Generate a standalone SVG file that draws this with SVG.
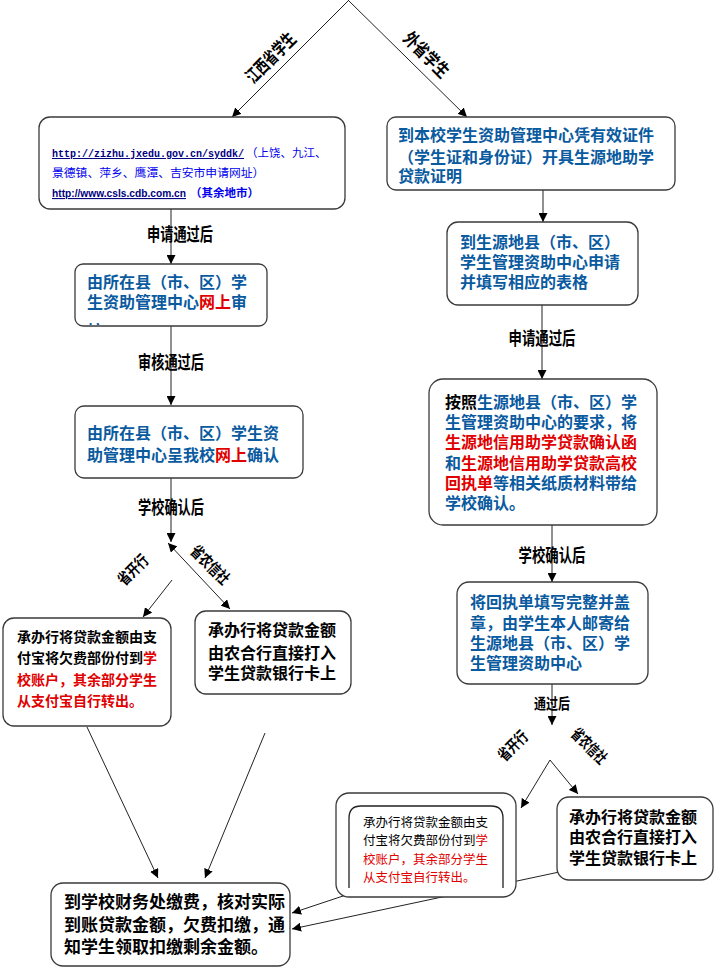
<svg xmlns="http://www.w3.org/2000/svg" width="716" height="969" viewBox="0 0 716 969">
<style>
text{font-family:"Liberation Sans","Noto Sans CJK SC",sans-serif;}
.box{fill:#fff;stroke:#3a3a3a;stroke-width:1.3;}
.ln{fill:none;stroke:#222;stroke-width:1;}
.lbl{font-size:18px;font-weight:bold;fill:#000;text-anchor:middle;}
.rl{font-size:18px;font-weight:bold;fill:#000;text-anchor:middle;dominant-baseline:central;}
.b16{font-size:16px;font-weight:bold;fill:#0a5aa0;}
.k16{font-size:16px;font-weight:bold;fill:#000;}
.k14{font-size:14px;font-weight:bold;fill:#000;}
.r{fill:#e00000;}
.bl{fill:#0a5aa0;}
.k{fill:#000;}
</style>
<defs>
<marker id="ah" viewBox="0 0 10 10" refX="10" refY="5" markerWidth="9" markerHeight="9" markerUnits="userSpaceOnUse" orient="auto-start-reverse">
<path d="M0,0 L10,5 L0,10 z" fill="#000"/>
</marker>
<clipPath id="c2"><rect x="75" y="264" width="192" height="61"/></clipPath>
</defs>
<rect width="716" height="969" fill="#fff"/>

<g id="connectors">
<line class="ln" x1="349" y1="0" x2="232" y2="117" marker-end="url(#ah)"/>
<line class="ln" x1="348" y1="0" x2="467" y2="117" marker-end="url(#ah)"/>
<line class="ln" x1="171" y1="209" x2="171" y2="264" marker-end="url(#ah)"/>
<line class="ln" x1="171" y1="326" x2="171" y2="405" marker-end="url(#ah)"/>
<line class="ln" x1="171" y1="478" x2="171" y2="542" marker-end="url(#ah)"/>
<line class="ln" x1="168" y1="543" x2="230" y2="609" marker-start="url(#ah)" marker-end="url(#ah)"/>
<line class="ln" x1="172" y1="580" x2="143" y2="617" marker-end="url(#ah)"/>
<line class="ln" x1="87" y1="727" x2="158" y2="878" marker-end="url(#ah)"/>
<line class="ln" x1="265" y1="733" x2="205" y2="878" marker-end="url(#ah)"/>
<line class="ln" x1="352" y1="893" x2="292" y2="913" marker-end="url(#ah)"/>
<line class="ln" x1="578" y1="868" x2="292" y2="929" marker-end="url(#ah)"/>
<line class="ln" x1="543" y1="190" x2="543" y2="222" marker-end="url(#ah)"/>
<line class="ln" x1="542" y1="305" x2="542" y2="379" marker-end="url(#ah)"/>
<line class="ln" x1="552" y1="525" x2="552" y2="582" marker-end="url(#ah)"/>
<line class="ln" x1="552" y1="684" x2="552" y2="725" marker-end="url(#ah)"/>
<line class="ln" x1="550" y1="760" x2="521" y2="808" marker-end="url(#ah)"/>
<line class="ln" x1="550" y1="760" x2="578" y2="794" marker-end="url(#ah)"/>

<text class="rl" transform="translate(271,58) rotate(-45)" textLength="62" lengthAdjust="spacingAndGlyphs">江西省学生</text>
<text class="rl" transform="translate(426,55) rotate(45)" textLength="56" lengthAdjust="spacingAndGlyphs">外省学生</text>
<text class="lbl" x="180" y="241" textLength="66" lengthAdjust="spacingAndGlyphs">申请通过后</text>
<text class="lbl" x="171" y="369" textLength="66" lengthAdjust="spacingAndGlyphs">审核通过后</text>
<text class="lbl" x="171" y="514" textLength="66" lengthAdjust="spacingAndGlyphs">学校确认后</text>
<text class="rl" style="font-size:16px" transform="translate(133,570) rotate(-45)" textLength="36" lengthAdjust="spacingAndGlyphs">省开行</text>
<text class="rl" style="font-size:16px" transform="translate(210,565) rotate(45)" textLength="48" lengthAdjust="spacingAndGlyphs">省农信社</text>
<text class="lbl" x="542" y="345" textLength="67" lengthAdjust="spacingAndGlyphs">申请通过后</text>
<text class="lbl" x="552" y="562" textLength="67" lengthAdjust="spacingAndGlyphs">学校确认后</text>
<text class="lbl" style="font-size:15px" x="552" y="709" textLength="36" lengthAdjust="spacingAndGlyphs">通过后</text>
<text class="rl" style="font-size:16px" transform="translate(513,746) rotate(-45)" textLength="35" lengthAdjust="spacingAndGlyphs">省开行</text>
<text class="rl" style="font-size:16px" transform="translate(589,746) rotate(45)" textLength="43" lengthAdjust="spacingAndGlyphs">省农信社</text>
</g>

<g id="node-l1">
<rect class="box" x="39" y="117" width="306" height="92" rx="11"/>
<text x="52" y="157" style="font-family:'Liberation Mono',monospace;font-size:10px;font-weight:bold;fill:#000080;text-decoration:underline" textLength="192" lengthAdjust="spacingAndGlyphs">http://zizhu.jxedu.gov.cn/syddk/</text>
<text x="246" y="157" style="font-size:11.5px;fill:#0000ee">（上饶、九江、</text>
<text x="52" y="177" style="font-size:11.8px;fill:#0000ee">景德镇、萍乡、鹰潭、吉安市申请网址）</text>
<text x="52" y="197" style="font-size:11px;font-weight:bold;fill:#000080;text-decoration:underline" textLength="134" lengthAdjust="spacingAndGlyphs">http://www.csls.cdb.com.cn</text>
<text x="190" y="197" style="font-size:11.5px;font-weight:bold;fill:#0000ee">（其余地市）</text>
</g>

<g id="node-l2">
<rect class="box" x="75" y="264" width="192" height="62" rx="8"/>
<text class="b16" x="87" y="288">由所在县（市、区）学</text>
<text class="b16" x="87" y="308">生资助管理中心<tspan class="r">网上</tspan>审</text>
<text class="b16" x="87" y="337" clip-path="url(#c2)">核</text>
</g>

<g id="node-l3">
<rect class="box" x="75" y="406" width="228" height="72" rx="9"/>
<text class="b16" x="87" y="439">由所在县（市、区）学生资</text>
<text class="b16" x="87" y="461">助管理中心呈我校<tspan class="r">网上</tspan>确认</text>
</g>

<g id="node-l4">
<rect class="box" x="3" y="618" width="168" height="108" rx="11"/>
<text class="k14" x="17" y="642">承办行将贷款金额由支</text>
<text class="k14" x="17" y="663">付宝将欠费部份付到<tspan class="r">学</tspan></text>
<text class="k14 r" x="17" y="685">校账户，其余部分学生</text>
<text class="k14 r" x="17" y="706">从支付宝自行转出。</text>
</g>

<g id="node-l5">
<rect class="box" x="195" y="611" width="156" height="83" rx="11"/>
<text class="k16" x="208" y="636">承办行将贷款金额</text>
<text class="k16" x="208" y="659">由农合行直接打入</text>
<text class="k16" x="208" y="679">学生贷款银行卡上</text>
</g>

<g id="node-bottom">
<rect class="box" x="51" y="883" width="239" height="83" rx="12"/>
<text class="k16" style="font-size:17px" x="64" y="908">到学校财务处缴费，核对实际</text>
<text class="k16" style="font-size:17px" x="64" y="931">到账贷款金额，欠费扣缴，通</text>
<text class="k16" style="font-size:17px" x="64" y="953">知学生领取扣缴剩余金额。</text>
</g>

<g id="node-r1">
<rect class="box" x="387" y="117" width="288" height="73" rx="9"/>
<text class="b16" x="398" y="141">到本校学生资助管理中心凭有效证件</text>
<text class="b16" x="398" y="163">（学生证和身份证）开具生源地助学</text>
<text class="b16" x="398" y="182">贷款证明</text>
</g>

<g id="node-r2">
<rect class="box" x="447" y="222" width="191" height="83" rx="11"/>
<text class="b16" x="460" y="248">到生源地县（市、区）</text>
<text class="b16" x="460" y="268">学生管理资助中心申请</text>
<text class="b16" x="460" y="288">并填写相应的表格</text>
</g>

<g id="node-r3">
<rect class="box" x="429" y="379" width="228" height="146" rx="14"/>
<text class="b16" x="445" y="408"><tspan class="k">按照</tspan>生源地县（市、区）学</text>
<text class="b16" x="445" y="428">生管理资助中心的要求，将</text>
<text class="b16 r" x="445" y="448">生源地信用助学贷款确认函</text>
<text class="b16" x="445" y="469">和<tspan class="r">生源地信用助学贷款高校</tspan></text>
<text class="b16" x="445" y="489"><tspan class="r">回执单</tspan>等相关纸质材料带给</text>
<text class="b16" x="445" y="509">学校确认。</text>
</g>

<g id="node-r4">
<rect class="box" x="457" y="582" width="191" height="102" rx="12"/>
<text class="b16" x="470" y="608">将回执单填写完整并盖</text>
<text class="b16" x="470" y="629">章，由学生本人邮寄给</text>
<text class="b16" x="470" y="649">生源地县（市、区）学</text>
<text class="b16" x="470" y="669">生管理资助中心</text>
</g>

<g id="node-r5">
<rect class="box" x="336" y="793" width="180" height="104" rx="13"/>
<path class="ln" d="M349,888 V818 Q349,806 361,806 H491 Q503,806 503,818 V888" style="stroke:#222;stroke-width:1.3"/>
<text x="363" y="827" style="font-size:12.5px;fill:#000">承办行将贷款金额由支</text>
<text x="363" y="845" style="font-size:12.5px;fill:#000">付宝将欠费部份付到<tspan class="r">学</tspan></text>
<text x="363" y="864" style="font-size:12.5px" class="r">校账户，其余部分学生</text>
<text x="363" y="882" style="font-size:12.5px" class="r">从支付宝自行转出。</text>
</g>

<g id="node-r6">
<rect class="box" x="557" y="797" width="156" height="83" rx="12"/>
<text class="k16" x="569" y="823">承办行将贷款金额</text>
<text class="k16" x="569" y="843">由农合行直接打入</text>
<text class="k16" x="569" y="864">学生贷款银行卡上</text>
</g>
</svg>
